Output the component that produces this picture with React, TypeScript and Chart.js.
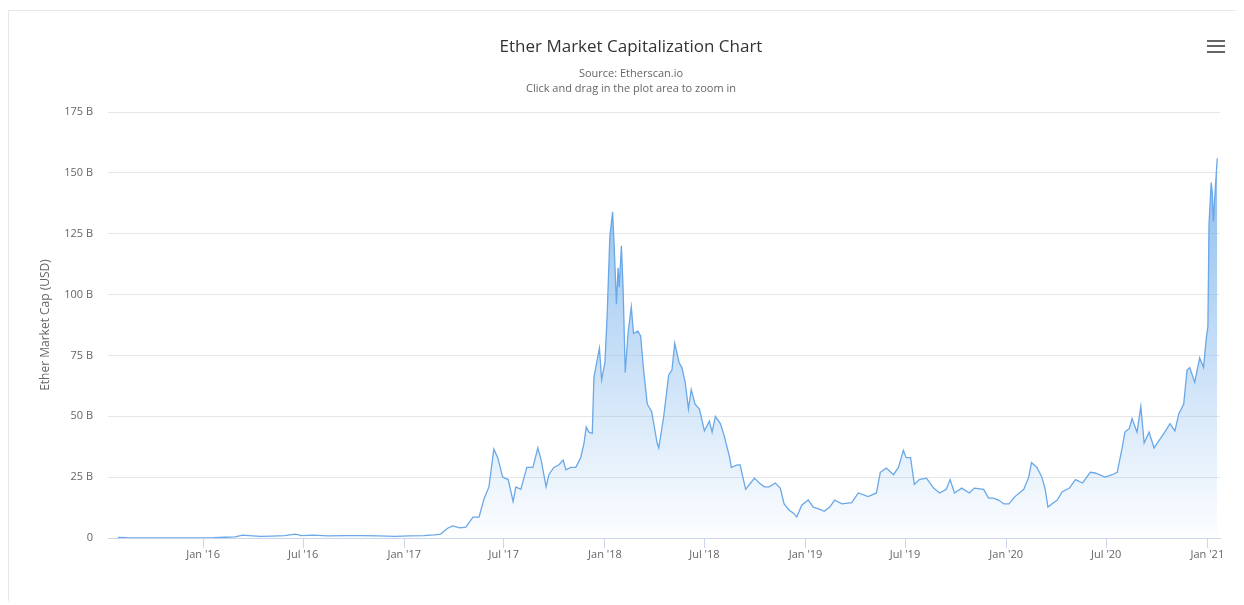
import React, { useEffect, useRef } from "react";
import { Chart, registerables } from "chart.js";

Chart.register(...registerables);

const TITLE = "Ether Market Capitalization Chart";
const SUBTITLE_LINES = ["Source: Etherscan.io", "Click and drag in the plot area to zoom in"];
const Y_AXIS_TITLE = "Ether Market Cap (USD)";

const DATES = [
  "2015-07-30", "2015-08-15", "2015-09-15", "2015-10-20", "2015-11-20", "2015-12-20",
  "2016-01-20", "2016-02-10", "2016-02-28", "2016-03-13", "2016-03-31", "2016-04-15",
  "2016-05-05", "2016-05-28", "2016-06-17", "2016-06-28", "2016-07-20", "2016-08-15",
  "2016-09-15", "2016-10-15", "2016-11-15", "2016-12-15",
  "2017-01-10", "2017-02-05", "2017-02-25", "2017-03-08", "2017-03-21", "2017-03-30",
  "2017-04-12", "2017-04-23", "2017-05-06", "2017-05-17", "2017-05-26", "2017-06-04",
  "2017-06-13", "2017-06-20", "2017-06-29", "2017-07-09", "2017-07-18", "2017-07-23",
  "2017-08-01", "2017-08-12", "2017-08-23", "2017-09-01", "2017-09-07", "2017-09-16",
  "2017-09-21", "2017-09-30", "2017-10-09", "2017-10-17", "2017-10-22", "2017-10-31",
  "2017-11-09", "2017-11-18", "2017-11-24", "2017-11-28", "2017-12-03", "2017-12-09",
  "2017-12-12", "2017-12-17", "2017-12-22", "2017-12-26",
  "2018-01-01", "2018-01-05", "2018-01-10", "2018-01-15", "2018-01-18", "2018-01-22",
  "2018-01-25", "2018-01-27", "2018-01-31", "2018-02-03", "2018-02-07", "2018-02-12",
  "2018-02-18", "2018-02-22", "2018-03-02", "2018-03-07", "2018-03-12", "2018-03-19",
  "2018-03-27", "2018-04-06", "2018-04-09", "2018-04-18", "2018-04-27", "2018-05-03",
  "2018-05-08", "2018-05-16", "2018-05-21", "2018-05-27", "2018-06-02", "2018-06-07",
  "2018-06-14", "2018-06-22", "2018-07-01", "2018-07-10", "2018-07-15", "2018-07-21",
  "2018-07-30", "2018-08-06", "2018-08-16", "2018-08-19", "2018-08-30", "2018-09-04",
  "2018-09-14", "2018-09-23", "2018-09-30", "2018-10-09", "2018-10-18", "2018-10-27",
  "2018-11-07", "2018-11-16", "2018-11-23", "2018-12-02", "2018-12-11", "2018-12-16",
  "2018-12-25",
  "2019-01-06", "2019-01-15", "2019-01-26", "2019-02-04", "2019-02-14", "2019-02-23",
  "2019-03-08", "2019-03-26", "2019-04-07", "2019-04-25", "2019-05-10", "2019-05-17",
  "2019-05-28", "2019-06-10", "2019-06-19", "2019-06-28", "2019-07-03", "2019-07-11",
  "2019-07-18", "2019-07-27", "2019-08-09", "2019-08-22", "2019-09-02", "2019-09-14",
  "2019-09-21", "2019-09-29", "2019-10-12", "2019-10-26", "2019-11-04", "2019-11-21",
  "2019-11-30", "2019-12-09", "2019-12-18", "2019-12-28",
  "2020-01-06", "2020-01-17", "2020-02-02", "2020-02-11", "2020-02-16", "2020-02-26",
  "2020-03-06", "2020-03-12", "2020-03-17", "2020-03-24", "2020-04-03", "2020-04-12",
  "2020-04-25", "2020-05-06", "2020-05-19", "2020-06-02", "2020-06-11", "2020-06-29",
  "2020-07-12", "2020-07-21", "2020-07-30", "2020-08-04", "2020-08-12", "2020-08-17",
  "2020-08-26", "2020-09-02", "2020-09-08", "2020-09-17", "2020-09-26", "2020-10-05",
  "2020-10-14", "2020-10-25", "2020-11-03", "2020-11-10", "2020-11-19", "2020-11-25",
  "2020-11-30", "2020-12-09", "2020-12-18", "2020-12-25", "2020-12-30",
  "2021-01-02", "2021-01-04", "2021-01-08", "2021-01-10", "2021-01-12", "2021-01-15",
  "2021-01-19",
];

// Market cap in billions of USD
const MARKET_CAP_B = [
  0.2, 0.1, 0.07, 0.04, 0.07, 0.07,
  0.1, 0.3, 0.5, 1.2, 0.9, 0.65,
  0.8, 1.0, 1.6, 1.0, 1.2, 0.9,
  1.0, 1.0, 0.85, 0.7,
  0.85, 1.0, 1.3, 1.6, 4.0, 5.0,
  4.2, 4.5, 8.6, 8.6, 16, 21,
  36.5, 33, 25, 24, 15, 21,
  20, 29, 29, 37, 32, 21,
  26, 29, 30, 32, 28, 29,
  29, 33, 39, 45.6, 43.5, 43,
  66, 72, 78, 65,
  72, 91, 124, 134, 119, 96,
  111, 103, 120, 103, 68, 84,
  95, 84, 85, 83, 70, 55,
  52, 39, 37, 50, 67, 69,
  80, 72, 70, 64, 53, 61,
  55, 53, 44, 48, 43.5, 50,
  47, 42, 33, 29, 30, 30,
  20, 22.6, 24.6, 22.6, 21, 21,
  22.6, 20.5, 14, 11.5, 10, 8.6,
  13.5,
  15.6, 12.7, 11.9, 11, 12.7, 15.6,
  14, 14.5, 18.5, 17, 18.5, 27,
  28.7, 26, 29, 36, 33, 33,
  22, 24, 24.6, 20.5, 18.5, 20,
  24, 18.5, 20.5, 18.5, 20.5, 20,
  16.4, 16.4, 15.6, 14,
  14, 17, 20, 25, 31, 29,
  25, 20, 12.7, 14, 15.6, 19,
  20.5, 24, 22.6, 27, 26.7, 25,
  26, 27, 37, 43.5, 45, 49,
  43.5, 54, 39, 43.5, 37, 40,
  43, 47, 44, 51, 55, 69,
  70, 64, 74, 70, 82,
  87, 129, 146, 142, 130, 142,
  156,
];

const X_MIN_DATE = "2015-07-12";
const X_MAX_DATE = "2021-01-24";
const X_TICK_DATES = [
  "2016-01-01", "2016-07-01", "2017-01-01", "2017-07-01", "2018-01-01", "2018-07-01",
  "2019-01-01", "2019-07-01", "2020-01-01", "2020-07-01", "2021-01-01",
];
const X_TICK_LABELS = [
  "Jan '16", "Jul '16", "Jan '17", "Jul '17", "Jan '18", "Jul '18",
  "Jan '19", "Jul '19", "Jan '20", "Jul '20", "Jan '21",
];
const Y_TICKS = [0, 25, 50, 75, 100, 125, 150, 175];
const Y_TICK_LABELS = ["0", "25 B", "50 B", "75 B", "100 B", "125 B", "150 B", "175 B"];

const toTs = (d: string) => {
  const [y, m, dd] = d.split("-").map(Number);
  return Date.UTC(y, m - 1, dd);
};

const FONT = "'Open Sans', 'Noto Sans', sans-serif";

const titlePlugin = {
  id: "customTitle",
  afterDraw(chart: any) {
    const c = chart.ctx as CanvasRenderingContext2D;
    c.save();
    c.textAlign = "center";
    c.textBaseline = "alphabetic";
    c.fillStyle = "#333333";
    c.font = `17px ${FONT}`;
    c.fillText(TITLE, 622, 41);
    c.fillStyle = "#666666";
    c.font = `11px ${FONT}`;
    c.fillText(SUBTITLE_LINES[0], 622, 66);
    c.fillText(SUBTITLE_LINES[1], 622, 81);
    c.fillStyle = "#666666";
    [29, 34, 40].forEach((y) => c.fillRect(1198, y, 18, 2));
    c.restore();
  },
};

export default function App() {
  const ref = useRef<HTMLCanvasElement | null>(null);

  useEffect(() => {
    if (!ref.current) return;
    const points = DATES.map((d, i) => ({ x: toTs(d), y: MARKET_CAP_B[i] }));
    const maxVal = Math.max(...MARKET_CAP_B);
    const chart = new Chart(ref.current, {
      type: "line",
      data: {
        datasets: [
          {
            label: "Market Cap",
            data: points,
            borderColor: "#6aa8e8",
            borderWidth: 1.3,
            pointRadius: 0,
            tension: 0,
            fill: "origin",
            backgroundColor: (ctx: any) => {
              const ch = ctx.chart;
              const area = ch.chartArea;
              if (!area) return "rgba(124,181,236,0.3)";
              const top = ch.scales.y.getPixelForValue(maxVal);
              const g = ch.ctx.createLinearGradient(0, top, 0, area.bottom);
              g.addColorStop(0, "rgba(118,176,236,0.85)");
              g.addColorStop(1, "rgba(124,181,236,0.02)");
              return g;
            },
          },
        ],
      },
      options: {
        responsive: false,
        animation: false,
        layout: { padding: { left: 25, top: 101, right: 23, bottom: 24 } },
        plugins: {
          legend: { display: false },
          tooltip: { enabled: false },
          title: { display: false },
        },
        scales: {
          x: {
            type: "linear",
            min: toTs(X_MIN_DATE),
            max: toTs(X_MAX_DATE),
            afterBuildTicks: (axis: any) => {
              axis.ticks = X_TICK_DATES.map((d) => ({ value: toTs(d) }));
            },
            afterFit: (axis: any) => {
              axis.height = 40;
            },
            ticks: {
              autoSkip: false,
              maxRotation: 0,
              padding: 0,
              color: "#666666",
              font: { family: FONT, size: 11 },
              callback: (_v: any, i: number) => X_TICK_LABELS[i],
            },
            grid: {
              display: true,
              drawOnChartArea: false,
              drawTicks: true,
              tickLength: 10,
              color: "#ccd6eb",
            },
            border: { display: true, color: "#ccd6eb" },
          },
          y: {
            min: 0,
            max: 175,
            afterBuildTicks: (axis: any) => {
              axis.ticks = Y_TICKS.map((v) => ({ value: v }));
            },
            afterFit: (axis: any) => {
              axis.width = 74;
            },
            ticks: {
              padding: 15,
              color: "#666666",
              font: { family: FONT, size: 11 },
              callback: (_v: any, i: number) => Y_TICK_LABELS[i],
            },
            grid: { color: "#e6e6e6", drawTicks: false },
            border: { display: false },
            title: {
              display: true,
              text: Y_AXIS_TITLE,
              color: "#666666",
              font: { family: FONT, size: 12 },
            },
          },
        },
      },
      plugins: [titlePlugin],
    } as any);
    return () => chart.destroy();
  }, []);

  return (
    <div
      style={{
        position: "relative",
        top: 2,
        width: 1236,
        height: 593,
        border: "1px solid #e8e8e8",
        boxSizing: "border-box",
        background: "#ffffff",
      }}
    >
      <canvas ref={ref} width={1234} height={591} style={{ display: "block" }} />
    </div>
  );
}
